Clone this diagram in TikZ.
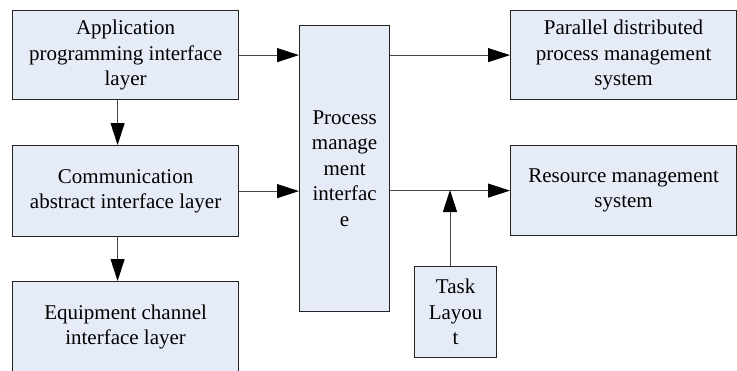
\documentclass[tikz,border=0pt]{standalone}
\usepackage{fontspec}
\setmainfont{Liberation Serif}
\newfontfamily\boxfont{Liberation Serif}
\usetikzlibrary{arrows.meta}
\definecolor{boxfill}{RGB}{230,236,247}
\definecolor{boxline}{RGB}{35,35,35}
\definecolor{conline}{RGB}{70,70,70}
\begin{document}
\begin{tikzpicture}[x=1pt,y=-1pt,
  blk/.style={draw=boxline,line width=1.2pt,fill=boxfill,anchor=north west,
    inner sep=0pt,align=center,font=\boxfont\fontsize{21}{25.5}\selectfont},
  con/.style={draw=conline,line width=1pt,-{Triangle[length=22pt,width=14pt,color=black]}}]
\useasboundingbox (0,0) rectangle (737,370);
\fill[white] (0,0) rectangle (737,370);
\node[blk,minimum width=226pt,minimum height=89pt] (app) at (12,10) {Application\\programming interface\\layer};
\node[blk,minimum width=226pt,minimum height=91pt] (comm) at (12,145) {Communication\\abstract interface layer};
\node[blk,minimum width=226pt,minimum height=91pt] (equip) at (12,281) {Equipment channel\\interface layer};
\node[blk,minimum width=90pt,minimum height=286pt] (proc) at (299,25) {Process\\manage\\ment\\interfac\\e};
\node[blk,minimum width=226pt,minimum height=89pt] (par) at (510,10) {Parallel distributed\\process management\\system};
\node[blk,minimum width=226pt,minimum height=90pt] (res) at (510,145) {Resource management\\system};
\node[blk,minimum width=82pt,minimum height=91pt] (task) at (414,266) {Task\\Layou\\t};
\coordinate (j) at (450,190);
\draw[con] (app.east) -- (proc.west |- app.east);
\draw[con] (comm.east) -- (proc.west |- comm.east);
\draw[con] (proc.east |- par.west) -- (par.west);
\draw[con] (proc.east |- res.west) -- (res.west);
\draw[con] (task.north -| j) -- (j);
\draw[con] ([xshift=-8pt]app.south) -- ([xshift=-8pt]comm.north);
\draw[con] ([xshift=-8pt]comm.south) -- ([xshift=-8pt]equip.north);
\end{tikzpicture}
\end{document}
